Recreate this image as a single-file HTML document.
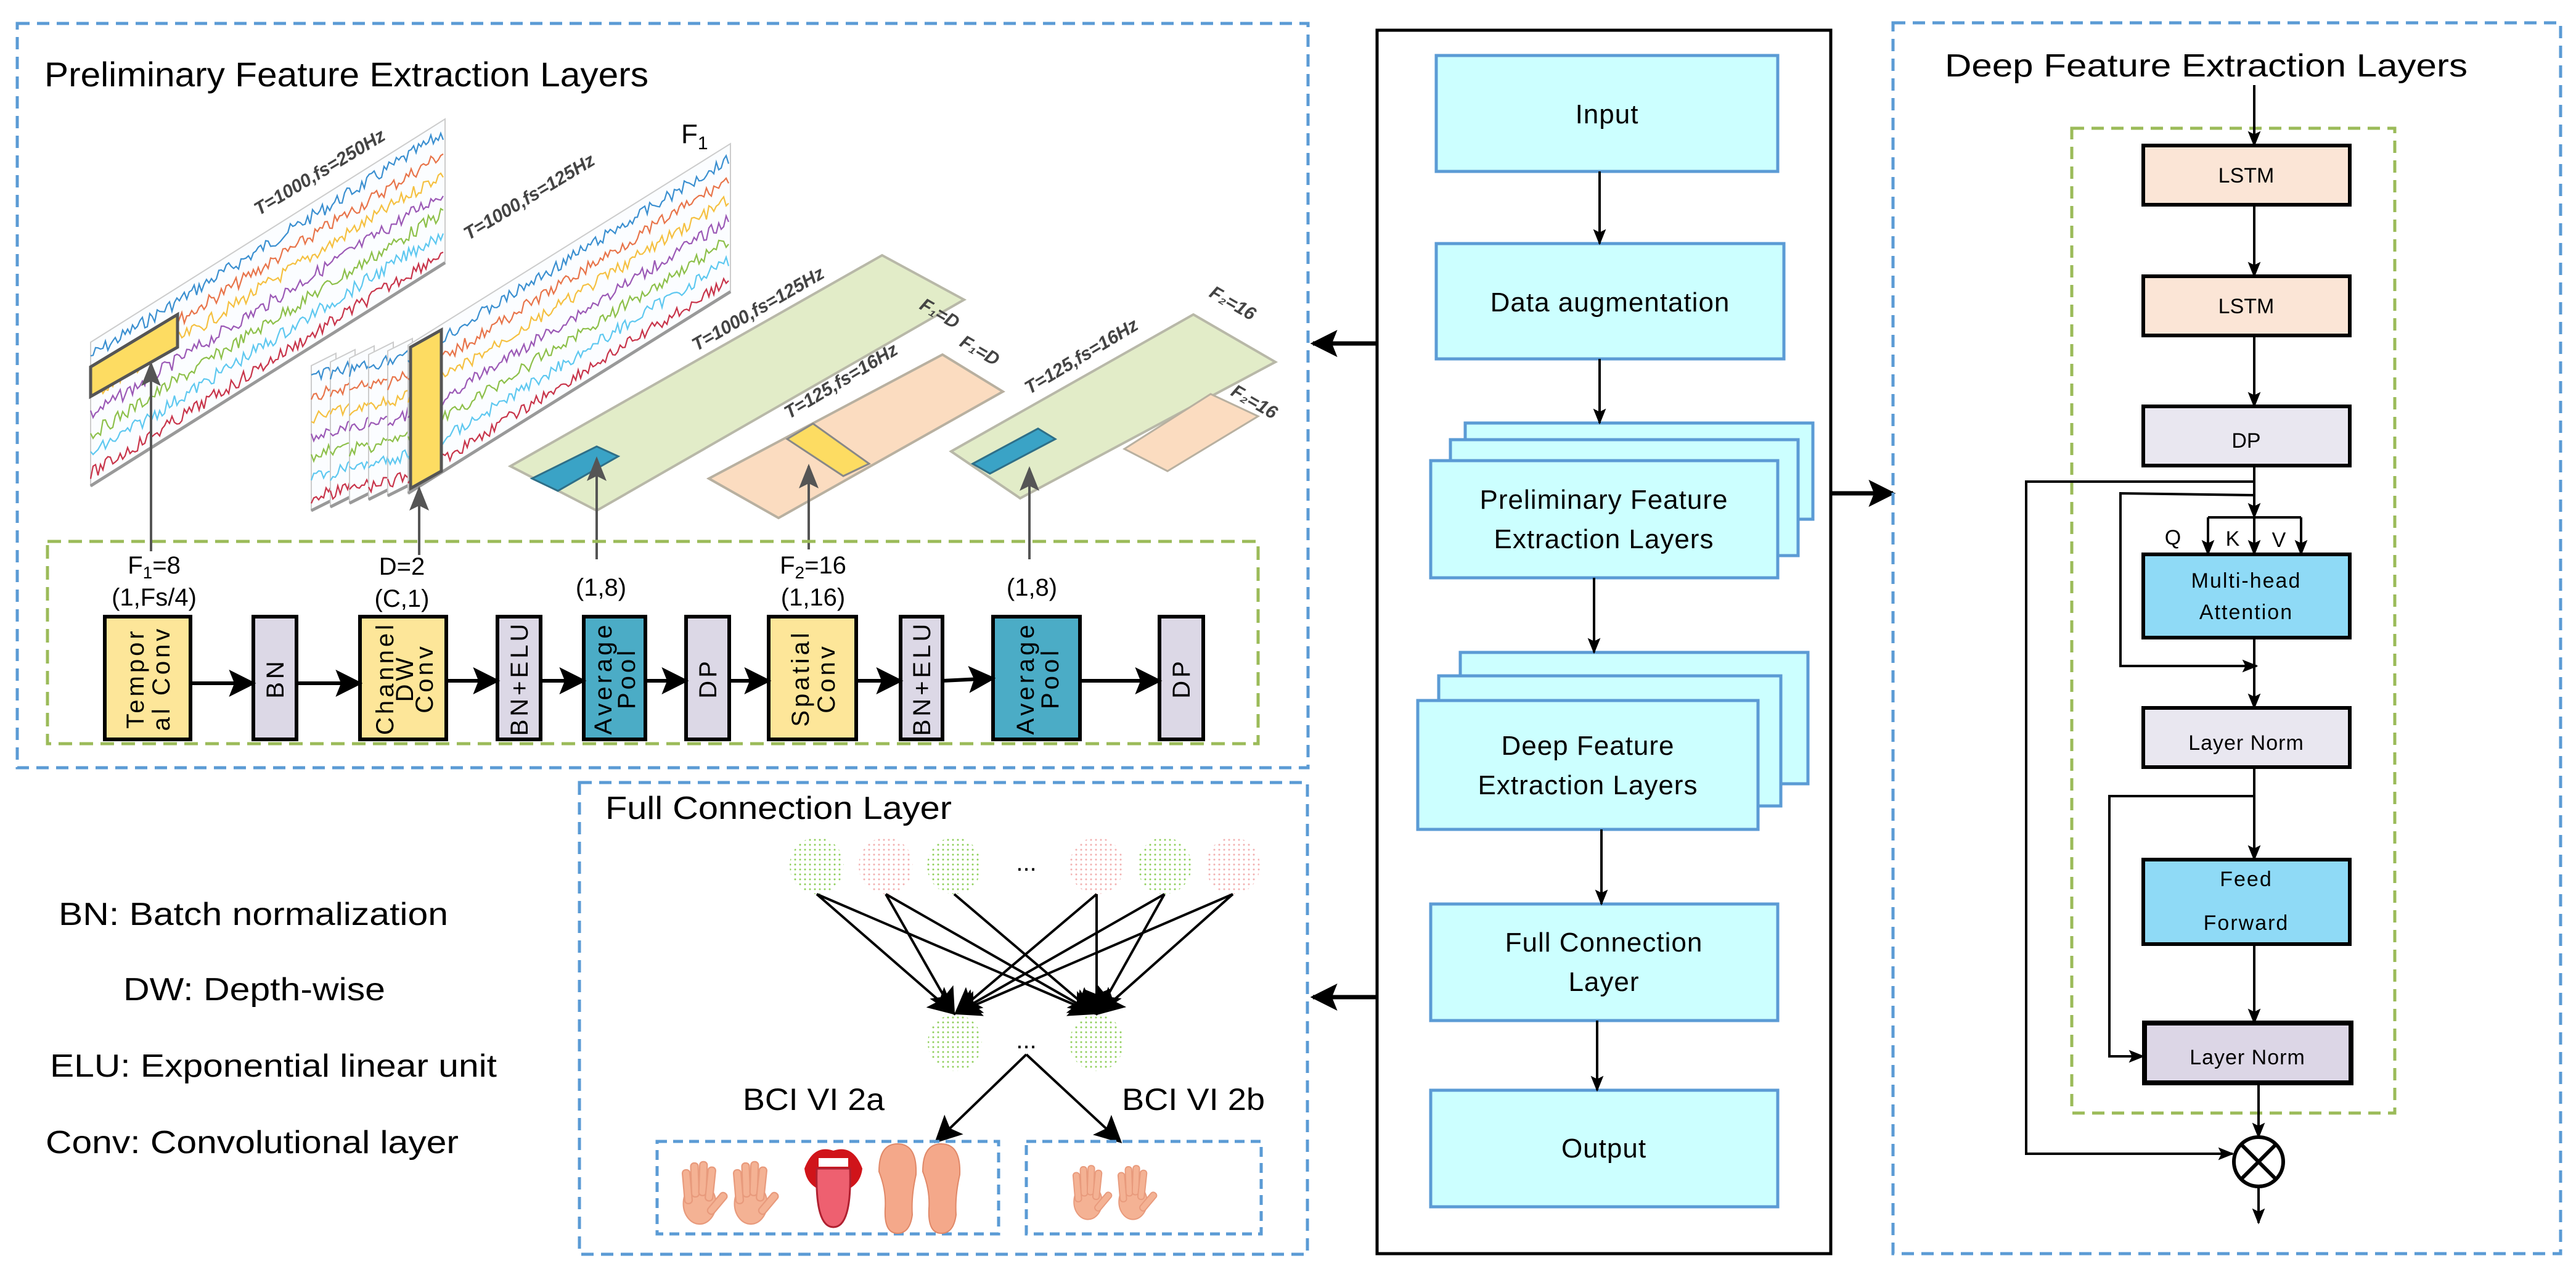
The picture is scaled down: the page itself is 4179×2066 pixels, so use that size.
<!DOCTYPE html>
<html><head><meta charset="utf-8"><style>
html,body{margin:0;padding:0;background:#fff;}
svg{display:block;}
text{font-family:"Liberation Sans",sans-serif;}
</style></head><body>
<svg id="s" width="4179" height="2066" viewBox="0 0 4179 2066" xmlns="http://www.w3.org/2000/svg">
<defs>
<marker id="ahS" viewBox="0 0 10 10" refX="9" refY="5" markerWidth="26" markerHeight="26" orient="auto" markerUnits="userSpaceOnUse"><path d="M0,1 L10,5 L0,9 L2,5 Z" fill="#000"/></marker>
<marker id="ahB" viewBox="0 0 10 10" refX="9" refY="5" markerWidth="44" markerHeight="44" orient="auto" markerUnits="userSpaceOnUse"><path d="M0,0 L10,5 L0,10 L2,5 Z" fill="#000"/></marker>
<marker id="ahG" viewBox="0 0 10 10" refX="9" refY="5" markerWidth="40" markerHeight="40" orient="auto" markerUnits="userSpaceOnUse"><path d="M0,1 L10,5 L0,9 L2,5 Z" fill="#555"/></marker>
<pattern id="dg" width="8" height="8" patternUnits="userSpaceOnUse"><circle cx="2" cy="2" r="1.5" fill="#8fcf5a"/></pattern>
<pattern id="dp" width="8" height="8" patternUnits="userSpaceOnUse"><circle cx="2" cy="2" r="1.5" fill="#f2b0b0"/></pattern>
</defs>

<rect x="28" y="38" width="2094" height="1207" fill="none" stroke="#5b9bd5" stroke-width="5" stroke-dasharray="20,12"/>
<text x="72" y="140" font-size="56" textLength="980" lengthAdjust="spacingAndGlyphs">Preliminary Feature Extraction Layers</text>

<g id="eeg"></g>

<polygon points="828,756 1431,414 1564,486 968,828" fill="#e2ecc8" stroke="#b8b8a8" stroke-width="4"/>
<polygon points="1150,776 1529,575 1627,635 1263,840" fill="#fbdcc0" stroke="#b8b0a0" stroke-width="4"/>
<polygon points="1543,732 1936,510 2069,587 1655,808" fill="#e2ecc8" stroke="#b8b8a8" stroke-width="4"/>
<polygon points="1824,728 1964,639 2041,675 1894,764" fill="#fbdcc0" stroke="#b8b0a0" stroke-width="3"/>
<polygon points="863,776 968,724 1003,740 905,796" fill="#3aa3c6" stroke="#2e6f88" stroke-width="3"/>
<polygon points="1277,712 1319,687 1410,752 1368,772" fill="#fddc62" stroke="#888" stroke-width="3"/>
<polygon points="1578,752 1684,695 1712,712 1606,768" fill="#3aa3c6" stroke="#2e6f88" stroke-width="3"/>
<polygon points="147,595 288,510 288,563 147,643" fill="#fddc62" stroke="#555" stroke-width="5"/>
<polygon points="666,563 716,535 716,764 666,792" fill="#fddc62" stroke="#555" stroke-width="5"/>

<g font-size="30" font-style="italic" font-weight="bold" fill="#444">
<text transform="translate(420,350) rotate(-31)">T=1000,fs=250Hz</text>
<text transform="translate(760,390) rotate(-31)">T=1000,fs=125Hz</text>
<text transform="translate(1130,570) rotate(-30)">T=1000,fs=125Hz</text>
<text transform="translate(1490,500) rotate(30)">F₁=D</text>
<text transform="translate(1280,680) rotate(-31)">T=125,fs=16Hz</text>
<text transform="translate(1555,560) rotate(30)">F₁=D</text>
<text transform="translate(1670,640) rotate(-31)">T=125,fs=16Hz</text>
<text transform="translate(1960,480) rotate(30)">F₂=16</text>
<text transform="translate(1995,640) rotate(30)">F₂=16</text>
</g>
<text x="1105" y="232" font-size="44">F<tspan font-size="30" dy="10">1</tspan></text>

<g stroke="#555" stroke-width="4" marker-end="url(#ahG)">
<line x1="245" y1="894" x2="245" y2="590"/>
<line x1="680" y1="900" x2="680" y2="792"/>
<line x1="968" y1="907" x2="968" y2="744"/>
<line x1="1312" y1="891" x2="1312" y2="756"/>
<line x1="1670" y1="907" x2="1670" y2="760"/>
</g>

<rect x="77" y="878" width="1964" height="328" fill="none" stroke="#9bbb59" stroke-width="5" stroke-dasharray="22,12"/>
<g font-size="40" text-anchor="middle">
<text x="250" y="930">F<tspan font-size="28" dy="8">1</tspan><tspan dy="-8">=8</tspan></text>
<text x="250" y="982">(1,Fs/4)</text>
<text x="652" y="932">D=2</text>
<text x="652" y="984">(C,1)</text>
<text x="975" y="966">(1,8)</text>
<text x="1319" y="930">F<tspan font-size="28" dy="8">2</tspan><tspan dy="-8">=16</tspan></text>
<text x="1319" y="982">(1,16)</text>
<text x="1674" y="966">(1,8)</text>
</g>

<g stroke="#000" stroke-width="6">
<rect x="170" y="1000" width="139" height="199" fill="#fde699"/>
<rect x="411" y="1000" width="70" height="199" fill="#dcd8e6"/>
<rect x="584" y="1000" width="140" height="199" fill="#fde699"/>
<rect x="807" y="1000" width="70" height="199" fill="#dcd8e6"/>
<rect x="947" y="1000" width="100" height="199" fill="#4bacc6"/>
<rect x="1113" y="1000" width="70" height="199" fill="#dcd8e6"/>
<rect x="1247" y="1000" width="142" height="199" fill="#fde699"/>
<rect x="1461" y="1000" width="68" height="199" fill="#dcd8e6"/>
<rect x="1611" y="1000" width="141" height="199" fill="#4bacc6"/>
<rect x="1881" y="1000" width="71" height="199" fill="#dcd8e6"/>
</g>
<g stroke="#000" stroke-width="6" marker-end="url(#ahB)">
<line x1="309" y1="1108" x2="411" y2="1108"/>
<line x1="481" y1="1108" x2="584" y2="1108"/>
<line x1="724" y1="1104" x2="807" y2="1104"/>
<line x1="877" y1="1104" x2="947" y2="1104"/>
<line x1="1047" y1="1104" x2="1113" y2="1104"/>
<line x1="1183" y1="1104" x2="1247" y2="1104"/>
<line x1="1389" y1="1104" x2="1461" y2="1104"/>
<line x1="1529" y1="1104" x2="1611" y2="1100"/>
<line x1="1752" y1="1104" x2="1881" y2="1104"/>
</g>
<g font-size="40" letter-spacing="5" text-anchor="middle">
<text transform="translate(233,1100) rotate(-90)">Tempor</text>
<text transform="translate(275,1100) rotate(-90)">al Conv</text>
<text transform="translate(460,1100) rotate(-90)">BN</text>
<text transform="translate(638,1100) rotate(-90)">Channel</text>
<text transform="translate(670,1100) rotate(-90)">DW</text>
<text transform="translate(702,1100) rotate(-90)">Conv</text>
<text transform="translate(856,1100) rotate(-90)">BN+ELU</text>
<text transform="translate(992,1100) rotate(-90)">Average</text>
<text transform="translate(1030,1100) rotate(-90)">Pool</text>
<text transform="translate(1162,1100) rotate(-90)">DP</text>
<text transform="translate(1312,1100) rotate(-90)">Spatial</text>
<text transform="translate(1354,1100) rotate(-90)">Conv</text>
<text transform="translate(1509,1100) rotate(-90)">BN+ELU</text>
<text transform="translate(1677,1100) rotate(-90)">Average</text>
<text transform="translate(1717,1100) rotate(-90)">Pool</text>
<text transform="translate(1930,1100) rotate(-90)">DP</text>
</g>

<g font-size="52">
<text x="95" y="1500" textLength="632" lengthAdjust="spacingAndGlyphs">BN: Batch normalization</text>
<text x="200" y="1622" textLength="425" lengthAdjust="spacingAndGlyphs">DW: Depth-wise</text>
<text x="81" y="1746" textLength="725" lengthAdjust="spacingAndGlyphs">ELU: Exponential linear unit</text>
<text x="74" y="1870" textLength="670" lengthAdjust="spacingAndGlyphs">Conv: Convolutional layer</text>
</g>

<rect x="940" y="1269" width="1181" height="765" fill="none" stroke="#5b9bd5" stroke-width="5" stroke-dasharray="20,12"/>
<text x="982" y="1328" font-size="52" textLength="562" lengthAdjust="spacingAndGlyphs">Full Connection Layer</text>
<g>
<ellipse cx="1325" cy="1404" rx="44" ry="46" fill="url(#dg)"/>
<ellipse cx="1437" cy="1404" rx="44" ry="46" fill="url(#dp)"/>
<ellipse cx="1548" cy="1404" rx="44" ry="46" fill="url(#dg)"/>
<ellipse cx="1779" cy="1404" rx="44" ry="46" fill="url(#dp)"/>
<ellipse cx="1889" cy="1404" rx="44" ry="46" fill="url(#dg)"/>
<ellipse cx="2000" cy="1404" rx="44" ry="46" fill="url(#dp)"/>
<ellipse cx="1549" cy="1691" rx="44" ry="46" fill="url(#dg)"/>
<ellipse cx="1779" cy="1691" rx="44" ry="46" fill="url(#dg)"/>
</g>
<text x="1665" y="1412" font-size="40" text-anchor="middle">...</text>
<text x="1665" y="1700" font-size="40" text-anchor="middle">...</text>
<g stroke="#000" stroke-width="4" marker-end="url(#ahB)">
<line x1="1325" y1="1450" x2="1547" y2="1643"/>
<line x1="1325" y1="1450" x2="1775" y2="1643"/>
<line x1="1437" y1="1450" x2="1547" y2="1643"/>
<line x1="1437" y1="1450" x2="1775" y2="1643"/>
<line x1="1548" y1="1450" x2="1775" y2="1643"/>
<line x1="1779" y1="1450" x2="1551" y2="1643"/>
<line x1="1779" y1="1450" x2="1779" y2="1643"/>
<line x1="1889" y1="1450" x2="1551" y2="1643"/>
<line x1="1889" y1="1450" x2="1781" y2="1643"/>
<line x1="2000" y1="1450" x2="1551" y2="1643"/>
<line x1="2000" y1="1450" x2="1783" y2="1643"/>
<line x1="1665" y1="1710" x2="1519" y2="1851"/>
<line x1="1665" y1="1710" x2="1817" y2="1851"/>
</g>
<text x="1205" y="1800" font-size="50" textLength="230" lengthAdjust="spacingAndGlyphs">BCI VI 2a</text>
<text x="1820" y="1800" font-size="50" textLength="232" lengthAdjust="spacingAndGlyphs">BCI VI 2b</text>
<rect x="1066" y="1851" width="554" height="150" fill="none" stroke="#5b9bd5" stroke-width="5" stroke-dasharray="16,10"/>
<rect x="1665" y="1851" width="381" height="150" fill="none" stroke="#5b9bd5" stroke-width="5" stroke-dasharray="16,10"/>
<g id="icons"></g>

<rect x="2234" y="49" width="736" height="1984" fill="none" stroke="#000" stroke-width="5"/>
<g fill="#ccffff" stroke="#5b9bd5" stroke-width="5">
<rect x="2330" y="90" width="554" height="188"/>
<rect x="2330" y="395" width="564" height="187"/>
<rect x="2377" y="686" width="564" height="156"/>
<rect x="2353" y="713" width="564" height="188"/>
<rect x="2321" y="747" width="563" height="190"/>
<rect x="2369" y="1058" width="564" height="213"/>
<rect x="2334" y="1096" width="555" height="211"/>
<rect x="2300" y="1136" width="552" height="209"/>
<rect x="2321" y="1466" width="563" height="189"/>
<rect x="2321" y="1768" width="563" height="189"/>
</g>
<g font-size="44" text-anchor="middle" letter-spacing="1">
<text x="2607" y="200">Input</text>
<text x="2612" y="505">Data augmentation</text>
<text x="2602" y="825">Preliminary Feature</text>
<text x="2602" y="889">Extraction Layers</text>
<text x="2576" y="1224">Deep Feature</text>
<text x="2576" y="1288">Extraction Layers</text>
<text x="2602" y="1543">Full Connection</text>
<text x="2602" y="1607">Layer</text>
<text x="2602" y="1877">Output</text>
</g>
<g stroke="#000" stroke-width="4" marker-end="url(#ahS)">
<line x1="2595" y1="278" x2="2595" y2="395"/>
<line x1="2595" y1="582" x2="2595" y2="686"/>
<line x1="2586" y1="937" x2="2586" y2="1058"/>
<line x1="2598" y1="1345" x2="2598" y2="1466"/>
<line x1="2591" y1="1655" x2="2591" y2="1768"/>
</g>
<g stroke="#000" stroke-width="7" marker-end="url(#ahB)">
<line x1="2234" y1="557" x2="2130" y2="557"/>
<line x1="2234" y1="1617" x2="2130" y2="1617"/>
<line x1="2970" y1="800" x2="3071" y2="800"/>
</g>

<rect x="3071" y="37" width="1083" height="1996" fill="none" stroke="#5b9bd5" stroke-width="5" stroke-dasharray="20,12"/>
<text x="3155" y="124" font-size="52" textLength="848" lengthAdjust="spacingAndGlyphs">Deep Feature Extraction Layers</text>
<rect x="3361" y="208" width="524" height="1597" fill="none" stroke="#9bbb59" stroke-width="5" stroke-dasharray="20,12"/>
<g stroke="#000" stroke-width="6">
<rect x="3477" y="236" width="335" height="96" fill="#fbe5d6"/>
<rect x="3477" y="448" width="335" height="96" fill="#fbe5d6"/>
<rect x="3477" y="659" width="335" height="96" fill="#e9e7f0"/>
<rect x="3477" y="899" width="335" height="135" fill="#8fdaf6"/>
<rect x="3477" y="1148" width="335" height="96" fill="#e9e7f0"/>
<rect x="3477" y="1394" width="335" height="137" fill="#8fdaf6"/>
<rect x="3479" y="1659" width="335" height="97" fill="#dcd6e6" stroke-width="8"/>
</g>
<g font-size="34" text-anchor="middle">
<text x="3644" y="296">LSTM</text>
<text x="3644" y="508">LSTM</text>
<text x="3644" y="726">DP</text>
<text x="3644" y="953" letter-spacing="2">Multi-head</text>
<text x="3644" y="1004" letter-spacing="2">Attention</text>
<text x="3644" y="1216" letter-spacing="1">Layer Norm</text>
<text x="3644" y="1437" letter-spacing="2">Feed</text>
<text x="3644" y="1508" letter-spacing="2">Forward</text>
<text x="3646" y="1726" letter-spacing="1">Layer Norm</text>
<text x="3525" y="883">Q</text>
<text x="3622" y="885">K</text>
<text x="3697" y="887">V</text>
</g>
<g stroke="#000" stroke-width="4" fill="none" marker-end="url(#ahS)">
<line x1="3657" y1="138" x2="3657" y2="236"/>
<line x1="3657" y1="332" x2="3657" y2="448"/>
<line x1="3657" y1="544" x2="3657" y2="659"/>
<line x1="3657" y1="755" x2="3657" y2="839"/>
<line x1="3582" y1="839" x2="3582" y2="899"/>
<line x1="3657" y1="839" x2="3657" y2="899"/>
<line x1="3733" y1="839" x2="3733" y2="899"/>
<line x1="3657" y1="1034" x2="3657" y2="1148"/>
<line x1="3657" y1="1244" x2="3657" y2="1394"/>
<line x1="3657" y1="1531" x2="3657" y2="1659"/>
<line x1="3664" y1="1756" x2="3664" y2="1844"/>
<line x1="3664" y1="1924" x2="3664" y2="1983"/>
<polyline points="3657,781 3287,781 3287,1871 3622,1871"/>
<polyline points="3657,803 3440,800 3440,1080 3661,1080"/>
<polyline points="3657,1291 3422,1291 3422,1713 3477,1713"/>
</g>
<line x1="3582" y1="839" x2="3733" y2="839" stroke="#000" stroke-width="4"/>
<circle cx="3664" cy="1884" r="40" fill="#fff" stroke="#000" stroke-width="6"/>
<line x1="3636" y1="1856" x2="3692" y2="1912" stroke="#000" stroke-width="6"/>
<line x1="3692" y1="1856" x2="3636" y2="1912" stroke="#000" stroke-width="6"/>
</svg>
<script>
(function(){
var NS="http://www.w3.org/2000/svg";
var g=document.getElementById("eeg");
function el(t,a,p){var e=document.createElementNS(NS,t);for(var k in a)e.setAttribute(k,a[k]);(p||g).appendChild(e);return e;}
var seed=7;function rnd(){seed=(seed*9301+49297)%233280;return seed/233280;}
var cols=["#3a8fd0","#e8744a","#f5c040","#9b59b6","#8dc04a","#5ec8f0","#c8344a"];
function plane(xl,yt,yb,xr,ytr,amp,dx){
  var slope=(ytr-yt)/(xr-xl);
  el("polygon",{points:xl+","+yt+" "+xr+","+ytr+" "+xr+","+(ytr+(yb-yt))+" "+xl+","+yb,fill:"#fbfdff",stroke:"#ccc","stroke-width":2});
  el("line",{x1:xl,y1:yb,x2:xr,y2:ytr+(yb-yt),stroke:"#999","stroke-width":5});
  var n=cols.length,h=yb-yt;
  for(var i=0;i<n;i++){
    var y0=yt+h*(i+0.7)/(n+0.3);var d="";
    for(var x=xl;x<=xr;x+=dx){var y=y0+slope*(x-xl)+(rnd()-0.5)*amp;d+=(x==xl?"M":"L")+x.toFixed(1)+","+y.toFixed(1);}
    el("path",{d:d,fill:"none",stroke:cols[i],"stroke-width":2.2});
  }
}
plane(147,555,788,722,193,22,4);
for(var k=0;k<5;k++){plane(505+k*31,593-k*6,828-k*6,545+k*31,573-k*6,18,4);}
plane(662,560,800,1185,233,20,4);
var ic=document.getElementById("icons");
function hand(cx,cy,s){
  var gg=el("g",{transform:"translate("+cx+","+cy+") scale("+s+")",fill:"#f4b294",stroke:"#e89a7c","stroke-width":2},ic);
  el("ellipse",{cx:0,cy:20,rx:24,ry:30},gg);
  [[-20,-20,-5],[-8,-30,-2],[5,-32,2],[17,-24,6]].forEach(function(f){el("rect",{x:f[0]-5,y:f[1]-10,width:11,height:50,rx:5,transform:"rotate("+f[2]+","+f[0]+","+f[1]+")"},gg);});
  el("rect",{x:20,y:0,width:11,height:38,rx:5,transform:"rotate(40,25,20)"},gg);
}
hand(1135,1930,1.1);hand(1218,1930,1.1);
hand(1765,1930,0.95);hand(1838,1930,0.95);
var m=el("g",{},ic);
el("path",{d:"M1305,1895 Q1320,1855 1352,1866 Q1384,1855 1399,1895 Q1395,1930 1352,1935 Q1309,1930 1305,1895 Z",fill:"#d0141a"},m);
el("rect",{x:1328,y:1878,width:48,height:14,fill:"#fff"},m);
el("path",{d:"M1325,1895 Q1322,1990 1352,1990 Q1382,1990 1379,1895 Z",fill:"#ee6070",stroke:"#b02030","stroke-width":3},m);
[[1456,1930],[1527,1930]].forEach(function(p){el("path",{d:"M"+(p[0]-30)+","+(p[1]-30)+" Q"+(p[0]-30)+","+(p[1]-75)+" "+p[0]+","+(p[1]-75)+" Q"+(p[0]+32)+","+(p[1]-75)+" "+(p[0]+30)+","+(p[1]-25)+" Q"+(p[0]+22)+","+(p[1]+10)+" "+(p[0]+24)+","+(p[1]+40)+" Q"+(p[0]+20)+","+(p[1]+70)+" "+p[0]+","+(p[1]+70)+" Q"+(p[0]-22)+","+(p[1]+70)+" "+(p[0]-20)+","+(p[1]+30)+" Q"+(p[0]-18)+","+(p[1])+" "+(p[0]-30)+","+(p[1]-30)+" Z",fill:"#f4a88a",stroke:"#e08868","stroke-width":2},ic);});
})();
</script>
</body></html>
